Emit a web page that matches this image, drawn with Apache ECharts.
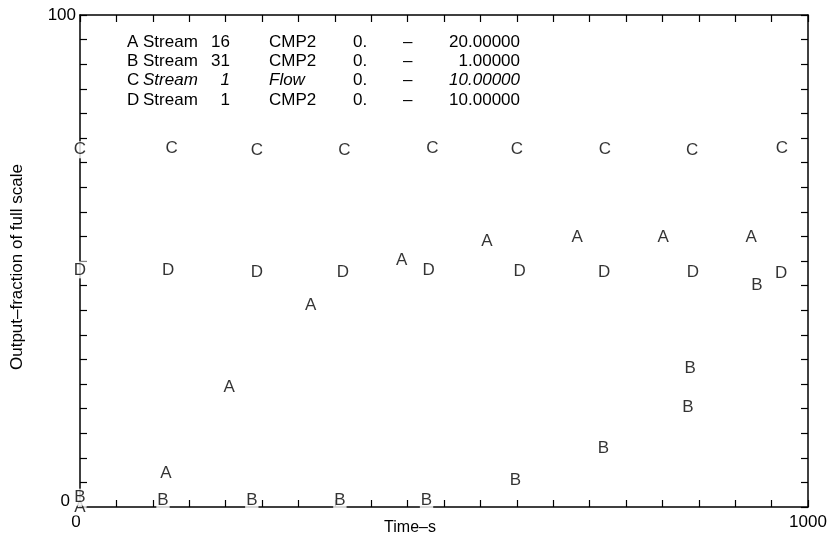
<!DOCTYPE html>
<html>
<head>
<meta charset="utf-8">
<script src="https://cdn.jsdelivr.net/npm/echarts@6/dist/echarts.min.js"></script>
<style>
html,body{margin:0;padding:0;background:#fff;}
#chart{width:833px;height:540px;}
</style>
</head>
<body>
<div id="chart"></div>
<script>
// ---- data ----
const timesA = [0, 118, 205, 317, 442, 559, 683, 801, 922];
const valuesA = [0, 6.9, 24.4, 40.9, 50.2, 53.9, 54.9, 54.9, 54.9];

const timesB = [0, 114, 236, 357, 476, 598, 719, 835, 838, 930];
const valuesB = [2, 1.4, 1.4, 1.4, 1.4, 5.5, 12, 20.3, 28.2, 45.1];

const timesC = [0, 126, 243, 363, 484, 600, 721, 841, 964];
const valuesC = [72.6, 73.0, 72.4, 72.4, 73.0, 72.6, 72.6, 72.4, 73.0];

const timesD = [0, 121, 243, 361, 479, 604, 720, 842, 963];
const valuesD = [48.2, 48.2, 47.8, 47.6, 48.2, 48.0, 47.6, 47.8, 47.4];

const seriesLetters = ['A', 'B', 'C', 'D'];
const legendStreams = ['16', '31', '1', '1'];
const legendVars = ['CMP2', 'CMP2', 'Flow', 'CMP2'];
const legendMins = ['0.', '0.', '0.', '0.'];
const legendMaxs = ['20.00000', '1.00000', '10.00000', '10.00000'];
const legendItalic = [false, false, true, false];

const xTickLabels = [0, 1000];
const yTickLabels = [0, 100];

const xName = 'Time\u2013s';
const yName = 'Output\u2013fraction of full scale';

// ---- chart ----
const FONT = '"Liberation Sans", Arial, Helvetica, sans-serif';
const chart = echarts.init(document.getElementById('chart'));

const allTimes = [timesA, timesB, timesC, timesD];
const allValues = [valuesA, valuesB, valuesC, valuesD];

const series = seriesLetters.map((letter, i) => ({
  type: 'scatter',
  name: letter,
  xAxisIndex: 0,
  yAxisIndex: 0,
  clip: false,
  symbolSize: 1,
  itemStyle: { color: 'rgba(0,0,0,0)' },
  data: allTimes[i].map((t, j) => [t, allValues[i][j]]),
  label: {
    show: true,
    position: 'inside',
    formatter: letter,
    color: '#000',
    fontFamily: FONT,
    fontSize: 17,
    backgroundColor: '#fff',
    padding: [0, 1]
  },
  emphasis: { disabled: true },
  z: 5
}));

const graphics = [];
const rowTop = 42, rowGap = 19.3;
seriesLetters.forEach((letter, i) => {
  const y = rowTop + i * rowGap;
  const it = legendItalic[i] ? 'italic' : 'normal';
  const base = { fill: '#000', fontFamily: FONT, fontSize: 17, textVerticalAlign: 'middle' };
  graphics.push({ type: 'text', x: 127, y: y, style: Object.assign({}, base, { text: letter }) });
  graphics.push({ type: 'text', x: 143, y: y, style: Object.assign({}, base, { text: 'Stream', fontStyle: it }) });
  graphics.push({ type: 'text', x: 230, y: y, style: Object.assign({}, base, { text: legendStreams[i], fontStyle: it, textAlign: 'right' }) });
  graphics.push({ type: 'text', x: 269, y: y, style: Object.assign({}, base, { text: legendVars[i], fontStyle: it }) });
  graphics.push({ type: 'text', x: 353, y: y, style: Object.assign({}, base, { text: legendMins[i] }) });
  graphics.push({ type: 'text', x: 403, y: y, style: Object.assign({}, base, { text: '\u2013' }) });
  graphics.push({ type: 'text', x: 520, y: y, style: Object.assign({}, base, { text: legendMaxs[i], fontStyle: it, textAlign: 'right' }) });
});

const axisLine = { show: true, onZero: false, lineStyle: { color: '#000', width: 1.5 } };
const tick = { show: true, inside: true, length: 7, lineStyle: { color: '#000', width: 1.2 } };

chart.setOption({
  backgroundColor: '#fff',
  animation: false,
  grid: { left: 80, right: 25, top: 15, bottom: 33, containLabel: false, outerBoundsMode: 'none' },
  xAxis: [
    {
      type: 'value', position: 'bottom', min: 0, max: 1000, interval: 50,
      axisLine: axisLine, axisTick: tick, splitLine: { show: false },
      axisLabel: {
        color: '#000', fontFamily: FONT, fontSize: 17, margin: 7,
        showMinLabel: true, showMaxLabel: true,
        formatter: v => (xTickLabels.indexOf(v) >= 0 ? (v === 0 ? '{z|0}' : String(v)) : ''),
        rich: { z: { fontFamily: FONT, fontSize: 17, color: '#000', padding: [0, 8, 0, 0] } }
      },
      name: xName, nameLocation: 'middle', nameGap: 13, nameMoveOverlap: false,
      nameTextStyle: { color: '#000', fontFamily: FONT, fontSize: 16, padding: [0, 68, 0, 0] }
    },
    {
      type: 'value', position: 'top', min: 0, max: 1000, interval: 50,
      axisLine: axisLine, axisTick: tick, splitLine: { show: false },
      axisLabel: { show: false }
    }
  ],
  yAxis: [
    {
      type: 'value', position: 'left', min: 0, max: 100, interval: 5,
      axisLine: axisLine, axisTick: tick, splitLine: { show: false },
      axisLabel: {
        color: '#000', fontFamily: FONT, fontSize: 17, margin: 4,
        showMinLabel: true, showMaxLabel: true,
        formatter: v => (yTickLabels.indexOf(v) >= 0 ? (v === 0 ? '{z|0}' : String(v)) : ''),
        rich: { z: { fontFamily: FONT, fontSize: 17, color: '#000', padding: [0, 6, 12, 0] } }
      },
      name: yName, nameLocation: 'middle', nameGap: 54, nameRotate: 90, nameMoveOverlap: false,
      nameTextStyle: { color: '#000', fontFamily: FONT, fontSize: 17, padding: [0, 12, 0, 0] }
    },
    {
      type: 'value', position: 'right', min: 0, max: 100, interval: 5,
      axisLine: axisLine, axisTick: tick, splitLine: { show: false },
      axisLabel: { show: false }
    }
  ],
  graphic: graphics,
  series: series
});
</script>
</body>
</html>
